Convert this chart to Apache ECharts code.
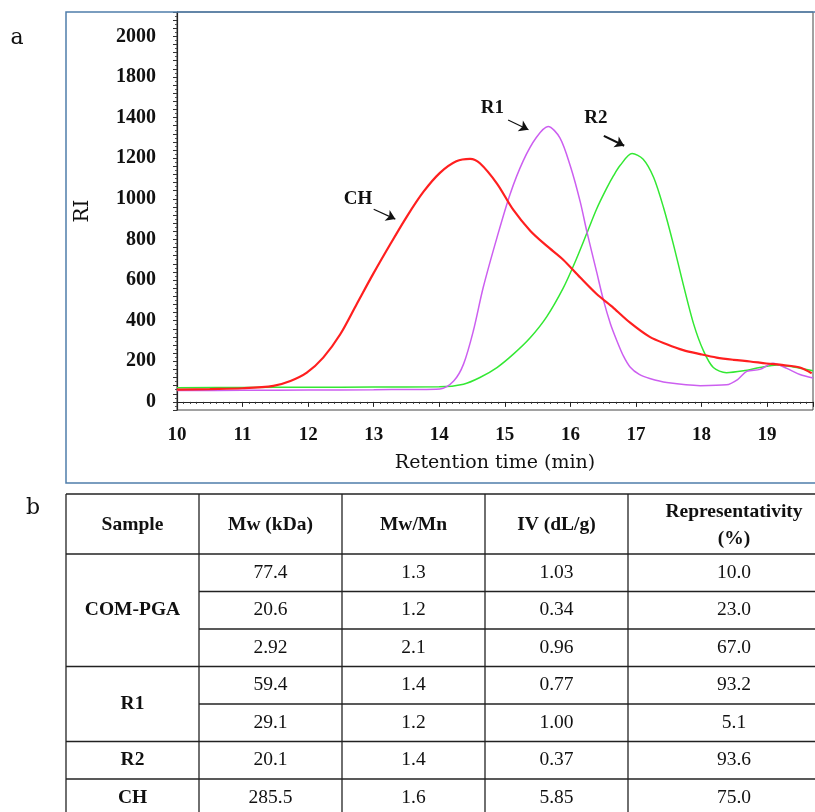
<!DOCTYPE html>
<html>
<head>
<meta charset="utf-8">
<script src="https://cdn.jsdelivr.net/npm/echarts@6/dist/echarts.min.js"></script>
<style>
  html, body { margin: 0; padding: 0; background: #fff; }
  #main { width: 815px; height: 812px; }
</style>
</head>
<body>
<div id="main"></div>
<script>
// y labels as printed in the figure (1600 is missing in the original)
const yTickLabels = ['0', '200', '400', '600', '800', '1000', '1200', '1400', '1800', '2000'];

const chTime = [10, 10.5, 11, 11.47, 11.73, 11.98, 12.23, 12.49, 12.74, 12.99, 13.25, 13.51, 13.76, 14.01, 14.26, 14.47, 14.62, 14.88, 15.13, 15.39, 15.64, 15.89, 16.15, 16.4, 16.66, 16.91, 17.21, 17.47, 17.72, 17.98, 18.23, 18.49, 18.74, 18.99, 19.25, 19.5, 19.68];
const chValue = [60, 63, 67, 79, 103, 144, 218, 333, 481, 629, 775, 915, 1035, 1128, 1185, 1197, 1175, 1075, 945, 842, 768, 700, 612, 531, 462, 390, 320, 284, 255, 235, 218, 207, 199, 189, 181, 169, 141];

const r1Time = [10, 11, 12, 13, 14.01, 14.22, 14.37, 14.52, 14.67, 14.88, 15.08, 15.28, 15.48, 15.66, 15.84, 16.0, 16.15, 16.25, 16.4, 16.5, 16.61, 16.71, 16.81, 16.91, 17.05, 17.21, 17.47, 17.98, 18.38, 18.55, 18.69, 18.89, 19.09, 19.3, 19.5, 19.7];
const r1Value = [56, 57, 58, 60, 64, 103, 186, 350, 563, 809, 1023, 1187, 1302, 1356, 1300, 1160, 985, 840, 640, 506, 385, 300, 225, 172, 135, 115, 95, 80, 84, 110, 150, 160, 190, 165, 135, 118];

const r2Time = [10, 11, 12, 13, 14, 14.37, 14.62, 14.88, 15.13, 15.39, 15.64, 15.89, 16.06, 16.25, 16.4, 16.55, 16.66, 16.76, 16.94, 17.11, 17.27, 17.42, 17.57, 17.72, 17.88, 18.03, 18.18, 18.38, 18.64, 18.89, 19.15, 19.4, 19.7];
const r2Value = [70, 71, 72, 73, 74, 87, 120, 169, 235, 317, 420, 560, 680, 830, 950, 1050, 1115, 1165, 1223, 1195, 1105, 957, 777, 580, 383, 251, 169, 144, 153, 169, 182, 172, 153];

// table b
const tableHeader = ['Sample', 'Mw (kDa)', 'Mw/Mn', 'IV (dL/g)', 'Representativity\n(%)'];
const sampleNames = ['COM-PGA', 'R1', 'R2', 'CH'];
const sampleRows = [3, 2, 1, 1];
const mwValues = ['77.4', '20.6', '2.92', '59.4', '29.1', '20.1', '285.5'];
const mwMnValues = ['1.3', '1.2', '2.1', '1.4', '1.2', '1.4', '1.6'];
const ivValues = ['1.03', '0.34', '0.96', '0.77', '1.00', '0.37', '5.85'];
const reprValues = ['10.0', '23.0', '67.0', '93.2', '5.1', '93.6', '75.0'];

// peak labels with arrows, in data units
const notes = [
  { name: 'CH', at: [12.76, 1000], from: [13.0, 949], to: [13.33, 900], w: 1.2 },
  { name: 'R1', at: [14.81, 1446], from: [15.05, 1388], to: [15.36, 1340], w: 1.2 },
  { name: 'R2', at: [16.39, 1397], from: [16.51, 1310], to: [16.82, 1261], w: 2.2 }
];

const zip = (xs, ys) => xs.map((x, i) => [x, ys[i]]);

const serif = 'Liberation Serif';
const graphics = [];

// outer frame of panel a
graphics.push({
  type: 'rect', z: 100, silent: true,
  shape: { x: 66, y: 12, width: 770, height: 471 },
  style: { fill: 'none', stroke: '#4f7dab', lineWidth: 1.5 }
});
graphics.push({ type: 'text', x: 17, y: 38, style: { text: 'a', fontFamily: 'DejaVu Serif', fontSize: 22, fill: '#111', align: 'center', verticalAlign: 'middle' } });
graphics.push({ type: 'text', x: 33, y: 508, style: { text: 'b', fontFamily: 'DejaVu Serif', fontSize: 22, fill: '#111', align: 'center', verticalAlign: 'middle' } });

// table
const colEdges = [66, 199, 342, 485, 628, 840];
const headerTop = 494, headerH = 60, rowH = 37.5;
const tableBottom = headerTop + headerH + rowH * mwValues.length;
const lineStyle = { stroke: '#222', lineWidth: 1.3 };
const hline = (x1, x2, y) => graphics.push({ type: 'line', shape: { x1, y1: y, x2, y2: y }, style: lineStyle });
const cellText = (text, cx, cy, bold) => graphics.push({
  type: 'text', x: cx, y: cy,
  style: { text, fontFamily: serif, fontSize: 19.5, fontWeight: bold ? 'bold' : 'normal', fill: '#111', align: 'center', verticalAlign: 'middle', lineHeight: 27 }
});

colEdges.forEach(x => graphics.push({ type: 'line', shape: { x1: x, y1: headerTop, x2: x, y2: tableBottom }, style: lineStyle }));
hline(colEdges[0], colEdges[5], headerTop);
hline(colEdges[0], colEdges[5], headerTop + headerH);
tableHeader.forEach((h, c) => cellText(h, (colEdges[c] + colEdges[c + 1]) / 2, headerTop + headerH / 2 + 1, true));

const cols = [mwValues, mwMnValues, ivValues, reprValues];
let row = 0;
sampleNames.forEach((s, g) => {
  const y0 = headerTop + headerH + row * rowH;
  cellText(s, (colEdges[0] + colEdges[1]) / 2, y0 + sampleRows[g] * rowH / 2, true);
  for (let k = 0; k < sampleRows[g]; k++) {
    const yy = headerTop + headerH + (row + k) * rowH;
    cols.forEach((vals, c) => cellText(vals[row + k], (colEdges[c + 1] + colEdges[c + 2]) / 2, yy + rowH / 2, false));
    const last = k === sampleRows[g] - 1;
    hline(last ? colEdges[0] : colEdges[1], colEdges[5], yy + rowH);
  }
  row += sampleRows[g];
});

const curve = (name, xs, ys, color, width) => ({
  name, type: 'line', data: zip(xs, ys), showSymbol: false,
  smooth: 0.3,
  lineStyle: { color, width }
});

const chart = echarts.init(document.getElementById('main'), null, { renderer: 'canvas' });
chart.setOption({
  animation: false,
  backgroundColor: '#fff',
  grid: { left: 177, right: 2, top: 12, bottom: 402, show: true, borderColor: '#444', borderWidth: 1 },
  xAxis: {
    type: 'value', min: 10, max: 19.7, interval: 1,
    axisLine: { lineStyle: { color: '#222', width: 1.2 } },
    axisTick: { length: 5, lineStyle: { color: '#222' } },
    minorTick: { show: true, splitNumber: 10, length: 2, lineStyle: { color: '#333' } },
    splitLine: { show: false },
    axisLabel: {
      showMaxLabel: false, margin: 16,
      formatter: v => Number.isInteger(v) ? String(v) : '',
      fontFamily: serif, fontWeight: 'bold', fontSize: 19, color: '#111'
    },
    name: 'Retention time (min)', nameLocation: 'middle', nameGap: 44,
    nameTextStyle: { fontFamily: 'DejaVu Serif', fontSize: 19, color: '#111' }
  },
  yAxis: {
    type: 'value', min: -40, max: 1920, interval: 40,
    axisLine: { show: true, lineStyle: { color: '#222', width: 1.2 } },
    axisTick: { show: true, length: 4, lineStyle: { color: '#333' } },
    minorTick: { show: true, splitNumber: 2, length: 2, lineStyle: { color: '#555' } },
    splitLine: { show: false },
    axisLabel: {
      margin: 21,
      formatter: v => (v >= 0 && v % 200 === 0 && v / 200 < yTickLabels.length) ? yTickLabels[v / 200] : '',
      fontFamily: serif, fontWeight: 'bold', fontSize: 20, color: '#111'
    },
    name: 'RI', nameLocation: 'middle', nameGap: 84, nameRotate: 90,
    nameTextStyle: { fontFamily: 'DejaVu Serif', fontSize: 20, color: '#111' }
  },
  series: [
    curve('R2', r2Time, r2Value, '#33e833', 1.5),
    curve('R1', r1Time, r1Value, '#cc5ff0', 1.5),
    Object.assign(curve('CH', chTime, chValue, '#ff1f1f', 2.2), {
      markLine: {
        silent: true, symbol: ['none', 'arrow'], symbolSize: 9,
        label: { show: false },
        data: notes.map(n => [
          { coord: n.from, lineStyle: { color: '#111', width: n.w, type: 'solid' } },
          { coord: n.to }
        ])
      },
      markPoint: {
        silent: true, symbol: 'circle', symbolSize: 0,
        label: { show: true, position: 'inside', formatter: '{b}', fontFamily: serif, fontWeight: 'bold', fontSize: 19, color: '#111' },
        data: notes.map(n => ({ name: n.name, coord: n.at }))
      }
    })
  ],
  graphic: graphics
});
</script>
</body>
</html>
